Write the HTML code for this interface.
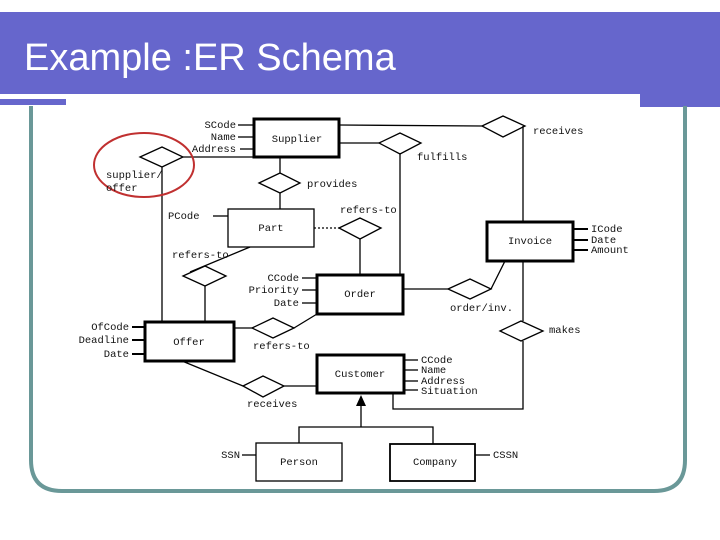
<!DOCTYPE html>
<html><head><meta charset="utf-8"><style>
html,body{margin:0;padding:0;background:#fff;width:720px;height:540px;overflow:hidden}
</style></head><body>
<svg width="720" height="540" viewBox="0 0 720 540" xmlns="http://www.w3.org/2000/svg">
<rect x="0" y="12" width="720" height="82" fill="#6666cc"/>
<rect x="0" y="94" width="66" height="11" fill="#6666cc"/>
<rect x="640" y="94" width="80" height="13" fill="#6666cc"/>
<rect x="0" y="94" width="636" height="5" fill="#fff"/>
<text x="24" y="70" font-family="Liberation Sans, sans-serif" font-size="38" fill="#fff">Example :ER Schema</text>
<path d="M31,106 V460 Q31,491 62,491 H654 Q685,491 685,460 V106" fill="none" stroke="#6a9898" stroke-width="4"/>
<g fill="none" stroke="#000" stroke-width="1.3">
<!-- lines -->
<line x1="339" y1="125" x2="482" y2="126"/>
<line x1="523" y1="126" x2="523" y2="222"/>
<line x1="339" y1="143" x2="379" y2="143"/>
<line x1="400" y1="153" x2="400" y2="275"/>
<line x1="183" y1="157" x2="254" y2="157"/>
<line x1="162" y1="167" x2="162" y2="322"/>
<line x1="280" y1="157" x2="280" y2="173"/>
<line x1="280" y1="193" x2="280" y2="209"/>
<line x1="314" y1="228" x2="339" y2="228" stroke-dasharray="2,2"/>
<line x1="360" y1="239" x2="360" y2="275"/>
<line x1="250" y1="247" x2="190" y2="272"/>
<line x1="205" y1="286" x2="205" y2="322"/>
<line x1="403" y1="289" x2="448" y2="289"/>
<line x1="491" y1="289" x2="505" y2="261"/>
<line x1="523" y1="261" x2="523" y2="321"/>
<path d="M523,341 V409 H393 V393"/>
<line x1="234" y1="328" x2="252" y2="328"/>
<line x1="294" y1="328" x2="317" y2="314"/>
<line x1="182" y1="361" x2="243" y2="386"/>
<line x1="284" y1="386" x2="317" y2="386"/>
<line x1="361" y1="405" x2="361" y2="427"/>
<path d="M299,443 V427 H433 V444"/>
<!-- attribute ticks -->
<line x1="238" y1="125" x2="254" y2="125"/><line x1="238" y1="137" x2="254" y2="137"/><line x1="240" y1="149" x2="254" y2="149"/>
<line x1="213" y1="216" x2="228" y2="216"/>
<line x1="302" y1="278" x2="317" y2="278"/><line x1="302" y1="290" x2="317" y2="290"/><line x1="302" y1="303" x2="317" y2="303"/>
<line x1="573" y1="229" x2="588" y2="229" stroke-width="2"/><line x1="573" y1="240" x2="588" y2="240" stroke-width="2"/><line x1="573" y1="250" x2="588" y2="250" stroke-width="2"/>
<line x1="132" y1="327" x2="145" y2="327" stroke-width="2"/><line x1="132" y1="340" x2="145" y2="340" stroke-width="2"/><line x1="132" y1="354" x2="145" y2="354" stroke-width="2"/>
<line x1="404" y1="360" x2="418" y2="360"/><line x1="404" y1="370" x2="418" y2="370"/><line x1="404" y1="381" x2="418" y2="381"/><line x1="404" y1="390" x2="418" y2="390"/>
<line x1="242" y1="455" x2="256" y2="455"/><line x1="475" y1="455" x2="490" y2="455"/>
<!-- diamonds -->
<polygon points="482,126 503,116 525,126 503,137"/>
<polygon points="379,143 400,133 421,143 400,154"/>
<polygon points="140,157 162,147 183,157 162,167"/>
<polygon points="259,183 280,173 300,183 280,193"/>
<polygon points="339,228 360,218 381,228 360,239"/>
<polygon points="183,276 205,266 226,276 205,286"/>
<polygon points="448,289 470,279 491,289 470,299"/>
<polygon points="500,331 521,321 543,331 521,341"/>
<polygon points="252,328 273,318 294,328 273,338"/>
<polygon points="243,386 263,376 284,386 263,397"/>
<!-- boxes -->
<rect x="254" y="119" width="85" height="38" stroke-width="3"/>
<rect x="228" y="209" width="86" height="38"/>
<rect x="317" y="275" width="86" height="39" stroke-width="3"/>
<rect x="487" y="222" width="86" height="39" stroke-width="3"/>
<rect x="145" y="322" width="89" height="39" stroke-width="3"/>
<rect x="317" y="355" width="87" height="38" stroke-width="3"/>
<rect x="256" y="443" width="86" height="38"/>
<rect x="390" y="444" width="85" height="37" stroke-width="1.8"/>
<ellipse cx="144" cy="165" rx="50" ry="32" stroke="#c03030" stroke-width="2"/>
</g>
<polygon points="361,395 356,406 366,406" fill="#000"/>
<g font-family="Liberation Mono, monospace" font-size="10.5" fill="#111">
<text x="297" y="142" text-anchor="middle">Supplier</text>
<text x="271" y="231" text-anchor="middle">Part</text>
<text x="360" y="297" text-anchor="middle">Order</text>
<text x="530" y="244" text-anchor="middle">Invoice</text>
<text x="189" y="345" text-anchor="middle">Offer</text>
<text x="360" y="377" text-anchor="middle">Customer</text>
<text x="299" y="465" text-anchor="middle">Person</text>
<text x="435" y="465" text-anchor="middle">Company</text>
<text x="236" y="128" text-anchor="end">SCode</text>
<text x="236" y="140" text-anchor="end">Name</text>
<text x="236" y="152" text-anchor="end">Address</text>
<text x="533" y="134">receives</text>
<text x="417" y="160">fulfills</text>
<text x="106" y="178">supplier/</text>
<text x="106" y="191">offer</text>
<text x="307" y="187">provides</text>
<text x="168" y="219">PCode</text>
<text x="340" y="213">refers-to</text>
<text x="172" y="258">refers-to</text>
<text x="299" y="281" text-anchor="end">CCode</text>
<text x="299" y="293" text-anchor="end">Priority</text>
<text x="299" y="306" text-anchor="end">Date</text>
<text x="450" y="311">order/inv.</text>
<text x="591" y="232">ICode</text>
<text x="591" y="243">Date</text>
<text x="591" y="253">Amount</text>
<text x="549" y="333">makes</text>
<text x="129" y="330" text-anchor="end">OfCode</text>
<text x="129" y="343" text-anchor="end">Deadline</text>
<text x="129" y="357" text-anchor="end">Date</text>
<text x="253" y="349">refers-to</text>
<text x="421" y="363">CCode</text>
<text x="421" y="373">Name</text>
<text x="421" y="384">Address</text>
<text x="421" y="394">Situation</text>
<text x="247" y="407">receives</text>
<text x="240" y="458" text-anchor="end">SSN</text>
<text x="493" y="458">CSSN</text>
</g>
</svg>
</body></html>
